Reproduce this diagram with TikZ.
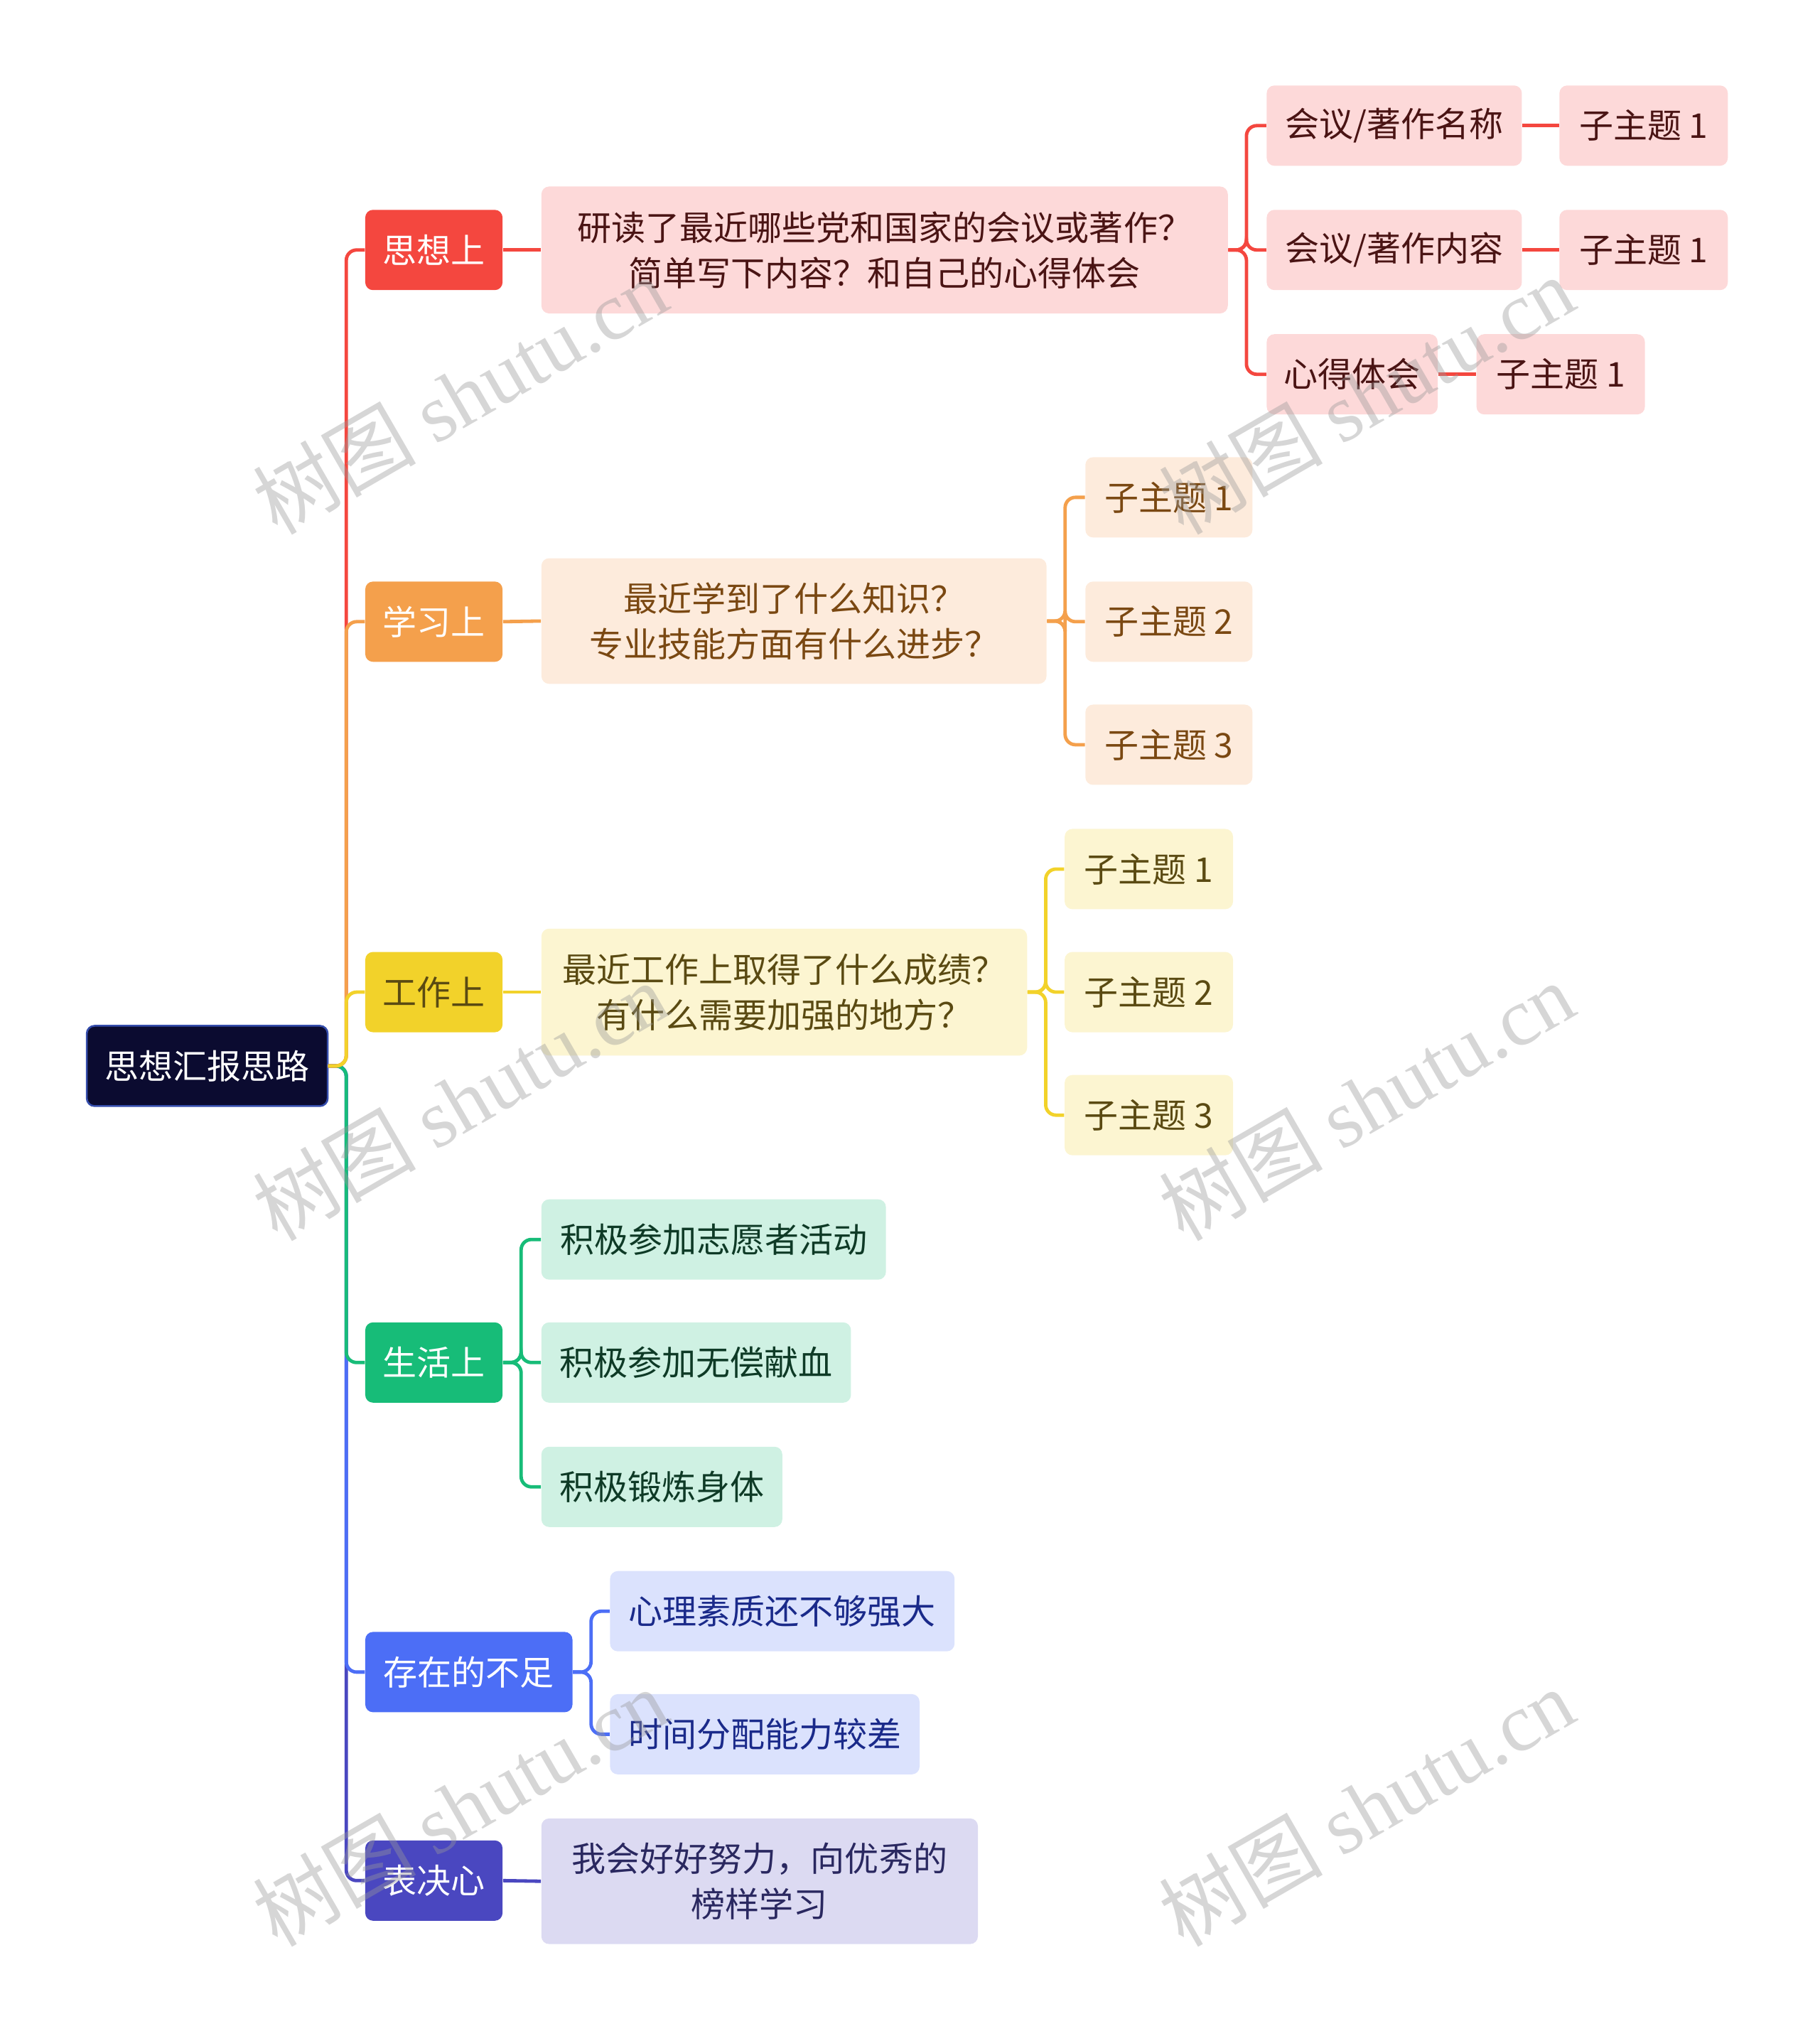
\documentclass[tikz,border=0pt]{standalone}
\usepackage{fontspec}
\setmainfont{Noto Sans CJK SC}
\newfontfamily\wmfont{Liberation Serif}
\usetikzlibrary{calc}
\definecolor{rootc}{HTML}{0B0B30}
\definecolor{redc}{HTML}{F4473F}\definecolor{redl}{HTML}{FDD9D9}\definecolor{redt}{HTML}{4A1414}
\definecolor{orc}{HTML}{F4A04C}\definecolor{orl}{HTML}{FDEBDC}\definecolor{ort}{HTML}{7A4812}
\definecolor{yec}{HTML}{F2D22A}\definecolor{yel}{HTML}{FCF5D1}\definecolor{yet}{HTML}{5A4A12}
\definecolor{grc}{HTML}{17BC78}\definecolor{grl}{HTML}{CFF1E3}\definecolor{grt}{HTML}{0E3A26}
\definecolor{blc}{HTML}{4C6EF6}\definecolor{bll}{HTML}{DBE2FD}\definecolor{blt}{HTML}{1A2A8A}
\definecolor{inc}{HTML}{4A47C0}\definecolor{inl}{HTML}{DCDAF2}\definecolor{int}{HTML}{2A2860}
\tikzset{
  bx/.style={rounded corners=0.12cm, inner sep=0pt, align=center, font=\fontsize{15}{20}\selectfont},
  ln/.style={line width=1.5pt, rounded corners=0.16cm},
}
\newcommand\B[7]{%
  \node[bx, fill=#6, minimum width={(#4-#2)*0.02cm}, minimum height={(#5-#3)*0.02cm}] (#1) at ({(#2+#4)/2},{(#3+#5)/2}) {#7};}
\begin{document}
\begin{tikzpicture}[x=0.02cm,y=-0.02cm]
\useasboundingbox (0,0) rectangle (1405,1572);
\B{root}{67}{792}{253}{854}{rootc}{\color{white}思想汇报思路}
\draw[blc!70!black, line width=0.8pt, rounded corners=0.12cm] (67,792) rectangle (253,854);
\B{s1}{282}{162}{388}{224}{redc}{\color{white}思想上}
\B{s2}{282}{449}{388}{511}{orc}{\color{white}学习上}
\B{s3}{282}{735}{388}{797}{yec}{\color{yet}工作上}
\B{s4}{282}{1021}{388}{1083}{grc}{\color{white}生活上}
\B{s5}{282}{1260}{442}{1322}{blc}{\color{white}存在的不足}
\B{s6}{282}{1421}{388}{1483}{inc}{\color{white}表决心}
\B{a}{418}{144}{948}{242}{redl}{\color{redt}研读了最近哪些党和国家的会议或著作？\\\color{redt}简单写下内容？和自己的心得体会}
\B{a1}{978}{66}{1175}{128}{redl}{\color{redt}会议/著作名称}
\B{a2}{978}{162}{1175}{224}{redl}{\color{redt}会议/著作内容}
\B{a3}{978}{258}{1110}{320}{redl}{\color{redt}心得体会}
\B{a1s}{1204}{66}{1334}{128}{redl}{\color{redt}子主题 1}
\B{a2s}{1204}{162}{1334}{224}{redl}{\color{redt}子主题 1}
\B{a3s}{1140}{258}{1270}{320}{redl}{\color{redt}子主题 1}
\B{b}{418}{431}{808}{528}{orl}{\color{ort}最近学到了什么知识？\\\color{ort}专业技能方面有什么进步？}
\B{b1}{838}{353}{967}{415}{orl}{\color{ort}子主题 1}
\B{b2}{838}{449}{967}{511}{orl}{\color{ort}子主题 2}
\B{b3}{838}{544}{967}{606}{orl}{\color{ort}子主题 3}
\B{c}{418}{717}{793}{815}{yel}{\color{yet}最近工作上取得了什么成绩？\\\color{yet}有什么需要加强的地方？}
\B{c1}{822}{640}{952}{702}{yel}{\color{yet}子主题 1}
\B{c2}{822}{735}{952}{797}{yel}{\color{yet}子主题 2}
\B{c3}{822}{830}{952}{892}{yel}{\color{yet}子主题 3}
\B{d1}{418}{926}{684}{988}{grl}{\color{grt}积极参加志愿者活动}
\B{d2}{418}{1021}{657}{1083}{grl}{\color{grt}积极参加无偿献血}
\B{d3}{418}{1117}{604}{1179}{grl}{\color{grt}积极锻炼身体}
\B{e1}{471}{1213}{737}{1275}{bll}{\color{blt}心理素质还不够强大}
\B{e2}{471}{1308}{710}{1370}{bll}{\color{blt}时间分配能力较差}
\B{f}{418}{1404}{755}{1501}{inl}{\color{int}我会好好努力，向优秀的\\\color{int}榜样学习}
\draw[ln, inc] (root.east) -- ++(14,0) |- (s6.west);
\draw[ln, blc] (root.east) -- ++(14,0) |- (s5.west);
\draw[ln, grc] (root.east) -- ++(14,0) |- (s4.west);
\draw[ln, redc] (root.east) -- ++(14,0) |- (s1.west);
\draw[ln, orc] (root.east) -- ++(14,0) |- (s2.west);
\draw[ln, yec] (root.east) -- ++(14,0) |- (s3.west);
\draw[ln, redc] (s1.east) -- (a.west);
\foreach \t in {a1,a2,a3}{\draw[ln, redc] (a.east) -- ++(14,0) |- (\t.west);}
\draw[ln, redc] (a1.east) -- (a1s.west);
\draw[ln, redc] (a2.east) -- (a2s.west);
\draw[ln, redc] (a3.east) -- (a3s.west);
\draw[ln, orc] (s2.east) -- (b.west);
\foreach \t in {b1,b2,b3}{\draw[ln, orc] (b.east) -- ++(14,0) |- (\t.west);}
\draw[ln, yec] (s3.east) -- (c.west);
\foreach \t in {c1,c2,c3}{\draw[ln, yec] (c.east) -- ++(14,0) |- (\t.west);}
\foreach \t in {d1,d2,d3}{\draw[ln, grc] (s4.east) -- ++(14,0) |- (\t.west);}
\foreach \t in {e1,e2}{\draw[ln, blc] (s5.east) -- ++(14,0) |- (\t.west);}
\draw[ln, inc] (s6.east) -- (f.west);
\foreach \px/\py in {355/305, 355/850, 355/1395, 1055/305, 1055/850, 1055/1395}{
  \node[rotate=30, text=black!40, opacity=0.4, font=\fontsize{36}{36}\selectfont] at (\px,\py) {树图 {\wmfont shutu.cn}};}
\end{tikzpicture}
\end{document}
